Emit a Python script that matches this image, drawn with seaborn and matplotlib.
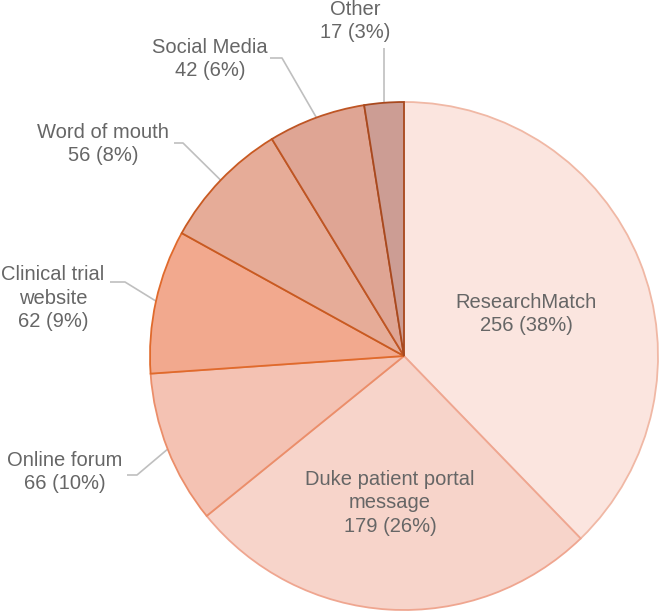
import numpy as np
import matplotlib.pyplot as plt
import seaborn as sns

sources = ['ResearchMatch', 'Duke patient portal\nmessage', 'Online forum',
           'Clinical trial\nwebsite', 'Word of mouth', 'Social Media', 'Other']
counts = [256, 179, 66, 62, 56, 42, 17]
pcts = [38, 26, 10, 9, 8, 6, 3]

fills = ['#FBE5DF', '#F7D4CA', '#F4C2B3', '#F2A98E', '#E6AC98', '#DFA594', '#CC9D94']
edges = ['#F0B8A5', '#EFA690', '#EB8E6A', '#E06A2C', '#C85A22', '#BE5524', '#A8491F']

sns.set_theme(style='white')
plt.rcParams['font.family'] = ['Liberation Sans', 'DejaVu Sans']

W, H = 660, 614
fig = plt.figure(figsize=(6.6, 6.14), dpi=100)
ax = fig.add_axes([0, 0, 1, 1])

cx, cy, r = 404, 356, 254  # pie centre / radius in pixels (y from top)
wedges, _ = ax.pie(counts, colors=fills, startangle=90, counterclock=False,
                   radius=r, center=(cx, H - cy),
                   wedgeprops=dict(linewidth=1.3))
for w, ec in zip(wedges, edges):
    w.set_edgecolor(ec)

ax.set_xlim(0, W)
ax.set_ylim(0, H)
ax.set_aspect('equal')
ax.axis('off')

txt_col = '#666666'
line_col = '#BFBFBF'

# label block centre (pixels from top-left)
label_pos = [(526, 314), (390, 503), (65, 472), (53, 298), (103, 144), (210, 59), (355, 21)]
# leader line: (text end x, elbow x, y of horizontal segment)
leaders = [None, None, (127, 137, 475), (110, 125, 282), (174, 183, 143), (270, 282, 58), (384, 384, 48)]

for i, w in enumerate(wedges):
    lx, ly = label_pos[i]
    ax.text(lx, H - ly, f'{sources[i]}\n{counts[i]} ({pcts[i]}%)', ha='center', va='center',
            fontsize=14.5, color=txt_col, linespacing=1.28)
    if leaders[i] is not None:
        mid = np.deg2rad((w.theta1 + w.theta2) / 2)
        ex = cx + r * np.cos(mid)
        ey = (H - cy) + r * np.sin(mid)
        x0, x1, yy = leaders[i]
        ax.plot([x0, x1, ex], [H - yy, H - yy, ey], color=line_col, lw=1.2,
                solid_capstyle='butt', zorder=0)

fig.savefig('out.png', dpi=100)
